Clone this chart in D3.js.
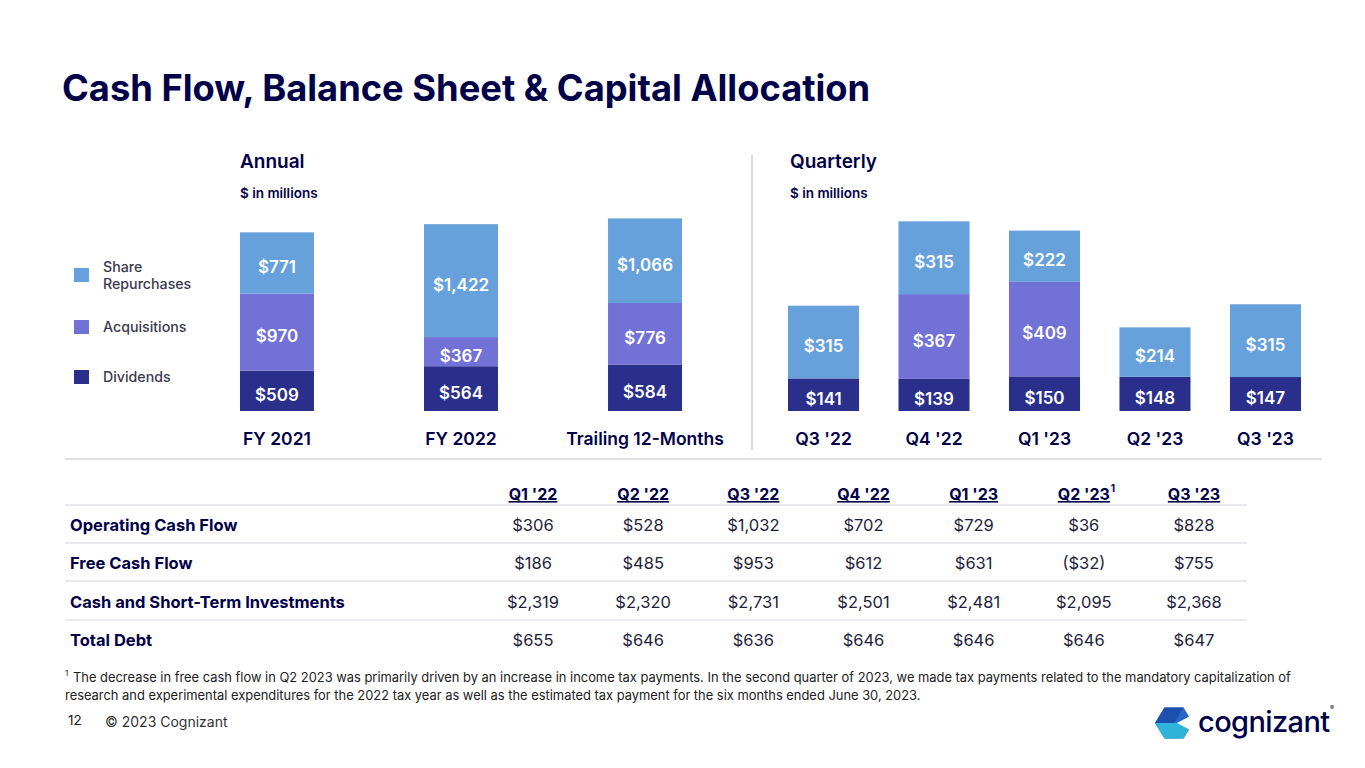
<!DOCTYPE html>
<html>
<head>
<meta charset="utf-8">
<script src="https://cdn.jsdelivr.net/npm/d3@7"></script>
<style>
  body { margin: 0; background: #fff; }
  svg text { font-family: Inter, "Noto Sans", sans-serif; }
</style>
</head>
<body>
<script>
// chart data
var annualCats = ['FY 2021', 'FY 2022', 'Trailing 12-Months'];
var annualDividends = [509, 564, 584];
var annualAcquisitions = [970, 367, 776];
var annualRepurchases = [771, 1422, 1066];

var quarterCats = ["Q3 '22", "Q4 '22", "Q1 '23", "Q2 '23", "Q3 '23"];
var quarterDividends = [141, 139, 150, 148, 147];
var quarterAcquisitions = [0, 367, 409, 0, 0];
var quarterRepurchases = [315, 315, 222, 214, 315];

var seriesNames = ['Share Repurchases', 'Acquisitions', 'Dividends'];

var tableCols = ["Q1 '22", "Q2 '22", "Q3 '22", "Q4 '22", "Q1 '23", "Q2 '23", "Q3 '23"];
var tableRows = ['Operating Cash Flow', 'Free Cash Flow', 'Cash and Short-Term Investments', 'Total Debt'];
var operatingCashFlow = ['$306', '$528', '$1,032', '$702', '$729', '$36', '$828'];
var freeCashFlow = ['$186', '$485', '$953', '$612', '$631', '($32)', '$755'];
var cashInvestments = ['$2,319', '$2,320', '$2,731', '$2,501', '$2,481', '$2,095', '$2,368'];
var totalDebt = ['$655', '$646', '$636', '$646', '$646', '$646', '$647'];

var navy = '#000048';
var colors = { div: '#2b2f8c', acq: '#7171d6', rep: '#66a1dc' };

var svg = d3.select('body').append('svg').attr('width', 1365).attr('height', 768);

svg.append('text').attr('x', 62).attr('y', 101)
    .attr('font-size', 36.3).attr('font-weight', 700).attr('fill', navy)
    .text('Cash Flow, Balance Sheet & Capital Allocation');

function fmt(v) { return '$' + d3.format(',')(v); }

function stackChart(cats, div, acq, rep, xRange, pad, yMax, yTop) {
    var x = d3.scaleBand().domain(cats).range(xRange).paddingInner(pad).paddingOuter(0);
    var y = d3.scaleLinear().domain([0, yMax]).range([411, yTop]);
    var rows = cats.map(function(c, i) {
        return { cat: c, div: div[i], acq: acq[i], rep: rep[i] };
    });
    var stack = d3.stack().keys(['div', 'acq', 'rep'])(rows);
    var g = svg.append('g');
    stack.forEach(function(layer) {
        var key = layer.key;
        var segs = layer.filter(function(d) { return d.data[key] > 0; });
        g.selectAll(null).data(segs).enter().append('rect')
            .attr('x', function(d) { return x(d.data.cat); })
            .attr('y', function(d) { return y(d[1]); })
            .attr('width', x.bandwidth())
            .attr('height', function(d) { return y(d[0]) - y(d[1]); })
            .attr('fill', colors[key]);
        g.selectAll(null).data(segs).enter().append('text')
            .attr('x', function(d) { return x(d.data.cat) + x.bandwidth() / 2; })
            .attr('y', function(d) { return (y(d[0]) + y(d[1])) / 2 + 10; })
            .attr('text-anchor', 'middle')
            .attr('font-size', 17).attr('font-weight', 600).attr('fill', '#fff')
            .text(function(d) { return fmt(d.data[key]); });
    });
    g.selectAll(null).data(cats).enter().append('text')
        .attr('x', function(d) { return x(d) + x.bandwidth() / 2; })
        .attr('y', 445)
        .attr('text-anchor', 'middle')
        .attr('font-size', 17.5).attr('font-weight', 600).attr('fill', navy)
        .text(function(d) { return d; });
}

stackChart(annualCats, annualDividends, annualAcquisitions, annualRepurchases,
    [240, 682], 0.598, 2500, 411 - 2500 * 0.0794);
stackChart(quarterCats, quarterDividends, quarterAcquisitions, quarterRepurchases,
    [788, 1301], 0.357, 900, 411 - 900 * 0.231);

// panel headings
[[240, 'Annual'], [790, 'Quarterly']].forEach(function(h) {
    svg.append('text').attr('x', h[0]).attr('y', 168)
        .attr('font-size', 19).attr('font-weight', 600).attr('fill', navy).text(h[1]);
    svg.append('text').attr('x', h[0]).attr('y', 198)
        .attr('font-size', 13.5).attr('font-weight', 600).attr('fill', navy).text('$ in millions');
});

// legend
var legendY = [268, 320, 370];
var legendKeys = ['rep', 'acq', 'div'];
seriesNames.forEach(function(name, i) {
    svg.append('rect').attr('x', 74).attr('y', legendY[i]).attr('width', 15).attr('height', 14)
        .attr('fill', colors[legendKeys[i]]);
    var t = svg.append('text').attr('x', 103).attr('font-size', 14.2).attr('font-weight', 500).attr('fill', '#3a3a4e');
    if (i === 0) {
        t.attr('y', 272);
        t.append('tspan').attr('x', 103).text('Share');
        t.append('tspan').attr('x', 103).attr('dy', 17).text('Repurchases');
    } else {
        t.attr('y', legendY[i] + 12).text(name);
    }
});

// separators
svg.append('line').attr('x1', 752).attr('x2', 752).attr('y1', 155).attr('y2', 450)
    .attr('stroke', '#d9d9de').attr('stroke-width', 2);
svg.append('line').attr('x1', 65).attr('x2', 1322).attr('y1', 459).attr('y2', 459)
    .attr('stroke', '#e2e2e6').attr('stroke-width', 2);

// table
var colX = d3.scalePoint().domain(tableCols).range([533, 1194]);
tableCols.forEach(function(c) {
    svg.append('text').attr('x', colX(c)).attr('y', 500)
        .attr('text-anchor', 'middle').attr('font-size', 16).attr('font-weight', 700)
        .attr('fill', navy).attr('text-decoration', 'underline').text(c);
    if (c === "Q2 '23") {
        svg.append('text').attr('x', colX(c) + 27).attr('y', 492)
            .attr('font-size', 10).attr('font-weight', 700).attr('fill', navy).text('1');
    }
});
var tableData = [operatingCashFlow, freeCashFlow, cashInvestments, totalDebt];
var rowY = [531, 569, 608, 646];
[505, 543, 581, 620].forEach(function(ly) {
    svg.append('line').attr('x1', 65).attr('x2', 1247).attr('y1', ly).attr('y2', ly)
        .attr('stroke', '#e3e3e8').attr('stroke-width', 1.5);
});
tableRows.forEach(function(r, i) {
    svg.append('text').attr('x', 70).attr('y', rowY[i])
        .attr('font-size', 16.5).attr('font-weight', 700).attr('fill', navy).text(r);
    svg.selectAll(null).data(tableData[i]).enter().append('text')
        .attr('x', function(d, j) { return colX(tableCols[j]); })
        .attr('y', rowY[i])
        .attr('text-anchor', 'middle').attr('font-size', 16.5).attr('font-weight', 400)
        .attr('fill', '#1e1e3c').text(function(d) { return d; });
});

// footnote
svg.append('text').attr('x', 65).attr('y', 676).attr('font-size', 8).attr('fill', '#222').text('1');
svg.append('text').attr('x', 73).attr('y', 682).attr('font-size', 12.9).attr('fill', '#222')
    .text('The decrease in free cash flow in Q2 2023 was primarily driven by an increase in income tax payments. In the second quarter of 2023, we made tax payments related to the mandatory capitalization of');
svg.append('text').attr('x', 65).attr('y', 700).attr('font-size', 12.9).attr('fill', '#222')
    .text('research and experimental expenditures for the 2022 tax year as well as the estimated tax payment for the six months ended June 30, 2023.');
svg.append('text').attr('x', 68).attr('y', 725).attr('font-size', 13.5).attr('fill', '#222').text('12');
svg.append('text').attr('x', 105).attr('y', 727).attr('font-size', 14).attr('fill', '#333').text('\u00a9 2023 Cognizant');

// logo
var logo = svg.append('g').attr('transform', 'translate(1174,723)');
var hex = d3.range(6).map(function(k) {
    var a = Math.PI / 3 * k;
    return [19 * Math.cos(a), 18 * Math.sin(a)];
});
function pts(arr) { return arr.map(function(p) { return p.join(','); }).join(' '); }
logo.append('polygon').attr('points', pts(hex)).attr('fill', '#2a66c9');
logo.append('polygon').attr('points', pts([[0, 0], hex[0], hex[1], hex[2], hex[3]])).attr('fill', '#2fb3da');
logo.append('polygon').attr('points', pts([[0, 0], hex[3], hex[4], hex[5]])).attr('fill', '#1c4fae');
logo.append('polygon').attr('points', '20,-9 3,0 20,9').attr('fill', '#fff');
svg.append('text').attr('x', 1198).attr('y', 732).attr('font-size', 29).attr('font-weight', 500)
    .attr('fill', navy).attr('letter-spacing', -0.6).text('cognizant');
svg.append('text').attr('x', 1330).attr('y', 710).attr('font-size', 6).attr('fill', navy).text('\u00ae');
</script>
</body>
</html>
